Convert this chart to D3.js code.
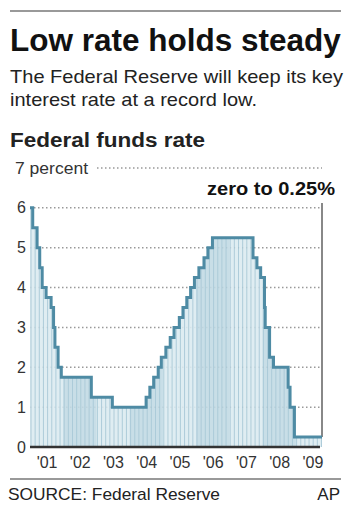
<!DOCTYPE html>
<html>
<head>
<meta charset="utf-8">
<script src="https://cdn.jsdelivr.net/npm/d3@7"></script>
<style>
  body { margin: 0; background: #fff; }
  svg { display: block; }
  text { font-family: "Liberation Sans", Arial, Helvetica, sans-serif; fill: #222; }
</style>
</head>
<body>
<div id="chart"></div>
<script>
// fed funds target rate, each value starts on its date
const rateDates = ["2001-01-01","2001-01-31","2001-03-20","2001-04-18","2001-05-15","2001-06-27","2001-08-21","2001-09-17","2001-10-02","2001-11-06","2001-12-11","2002-11-06","2003-06-25","2004-06-30","2004-08-10","2004-09-21","2004-11-10","2004-12-14","2005-02-02","2005-03-22","2005-05-03","2005-06-30","2005-08-09","2005-09-20","2005-11-01","2005-12-13","2006-01-31","2006-03-28","2006-05-10","2006-06-29","2007-09-18","2007-10-31","2007-12-11","2008-01-22","2008-01-30","2008-03-18","2008-04-30","2008-10-08","2008-10-29","2008-12-16","2009-10-15"];
const rateValues = [6.0,5.5,5.0,4.5,4.0,3.75,3.5,3.0,2.5,2.0,1.75,1.25,1.0,1.25,1.5,1.75,2.0,2.25,2.5,2.75,3.0,3.25,3.5,3.75,4.0,4.25,4.5,4.75,5.0,5.25,4.75,4.5,4.25,3.5,3.0,2.25,2.0,1.5,1.0,0.25,0.25];
const years = [2001,2002,2003,2004,2005,2006,2007,2008,2009];
const yearLabels = ["'01","'02","'03","'04","'05","'06","'07","'08","'09"];
const yTicks = [0,1,2,3,4,5,6,7];

const parse = d3.timeParse("%Y-%m-%d");
const data = rateDates.map((d, i) => ({date: parse(d), rate: rateValues[i]}));

const W = 353, H = 512;
const svg = d3.select("#chart").append("svg").attr("width", W).attr("height", H);

const x = d3.scaleTime()
  .domain([new Date(2001, 0, 1), data[data.length - 1].date])
  .range([30, 322]);
const y = d3.scaleLinear().domain([0, 7]).range([447, 168]);

// header
svg.append("line").attr("x1", 10).attr("x2", 341).attr("y1", 11).attr("y2", 11)
  .attr("stroke", "#999").attr("stroke-width", 2);
svg.append("text").attr("x", 10).attr("y", 51)
  .attr("font-size", 31.5).attr("font-weight", "bold").style("fill", "#111")
  .text("Low rate holds steady");
svg.append("text").attr("x", 10).attr("y", 83).attr("font-size", 19)
  .attr("textLength", 333).attr("lengthAdjust", "spacingAndGlyphs")
  .text("The Federal Reserve will keep its key");
svg.append("text").attr("x", 10).attr("y", 106).attr("font-size", 19)
  .attr("textLength", 247).attr("lengthAdjust", "spacingAndGlyphs")
  .text("interest rate at a record low.");
svg.append("text").attr("x", 10).attr("y", 147).attr("font-size", 20).attr("font-weight", "bold")
  .attr("textLength", 195).attr("lengthAdjust", "spacingAndGlyphs")
  .text("Federal funds rate");

// gridlines
svg.append("g").selectAll("line")
  .data(yTicks.filter(d => d > 0))
  .join("line")
  .attr("x1", d => d == 7 ? 97 : 30).attr("x2", 322)
  .attr("y1", d => y(d)).attr("y2", d => y(d))
  .attr("stroke", "#999").attr("stroke-width", 1.5)
  .attr("stroke-dasharray", "1.5,2.5");

// shaded area under the line
const area = d3.area().curve(d3.curveStepAfter)
  .x(d => x(d.date)).y0(y(0)).y1(d => y(d.rate));
svg.append("clipPath").attr("id", "under")
  .append("path").attr("d", area(data));

const fillG = svg.append("g").attr("clip-path", "url(#under)").attr("opacity", 0.9);
fillG.append("rect").attr("x", 30).attr("y", 168).attr("width", 292).attr("height", 279)
  .attr("fill", "#dcebf1");
fillG.selectAll(".band")
  .data(years.filter(d => d % 2 == 0))
  .join("rect")
  .attr("x", d => x(new Date(d, 0, 1)))
  .attr("width", d => x(new Date(d + 1, 0, 1)) - x(new Date(d, 0, 1)))
  .attr("y", 168).attr("height", 279)
  .attr("fill", "#c3dbe5");
fillG.selectAll(".stripe")
  .data(d3.range(31, 322, 4.15))
  .join("line")
  .attr("x1", d => d).attr("x2", d => d).attr("y1", 168).attr("y2", 447)
  .attr("stroke", "#9fc3d2").attr("stroke-width", 0.9);

// marker for the current level
svg.append("line").attr("x1", 322).attr("x2", 322).attr("y1", 203).attr("y2", y(0.25))
  .attr("stroke", "#888").attr("stroke-width", 2);
svg.append("text").attr("x", 207).attr("y", 195).attr("font-size", 19).attr("font-weight", "bold")
  .style("fill", "#111")
  .attr("textLength", 128).attr("lengthAdjust", "spacingAndGlyphs")
  .text("zero to 0.25%");

// step line
const line = d3.line().curve(d3.curveStepAfter)
  .x(d => x(d.date)).y(d => y(d.rate));
svg.append("path").attr("d", line(data))
  .attr("fill", "none").attr("stroke", "#4e8ba4").attr("stroke-width", 3)
  .attr("stroke-linejoin", "miter");

// baseline
svg.append("line").attr("x1", 30).attr("x2", 320).attr("y1", 447).attr("y2", 447)
  .attr("stroke", "#333").attr("stroke-width", 2.5);

// y axis
const yAxis = svg.append("g").attr("transform", "translate(26,0)")
  .call(d3.axisLeft(y).tickValues(yTicks).tickFormat(d3.format("d")).tickSize(0).tickPadding(0));
yAxis.select(".domain").remove();
yAxis.selectAll("text").attr("font-size", 16).style("fill", "#333")
  .attr("font-family", null);
yAxis.selectAll(".tick").filter(d => d == 7).select("text")
  .attr("text-anchor", "start").attr("x", -11)
  .attr("textLength", 73).attr("lengthAdjust", "spacingAndGlyphs")
  .text("7 percent");

// x axis, labels centred on each year
const xAxis = svg.append("g").attr("transform", "translate(0,447)")
  .call(d3.axisBottom(x)
    .tickValues(years.map(d => new Date(d, 6, 2)))
    .tickFormat((d, i) => yearLabels[i])
    .tickSize(0).tickPadding(10));
xAxis.select(".domain").remove();
xAxis.selectAll("text").attr("font-size", 16).style("fill", "#333").attr("font-family", null);

// footer
svg.append("line").attr("x1", 10).attr("x2", 341).attr("y1", 479).attr("y2", 479)
  .attr("stroke", "#999").attr("stroke-width", 2);
svg.append("text").attr("x", 8).attr("y", 500).attr("font-size", 17)
  .attr("textLength", 212).attr("lengthAdjust", "spacingAndGlyphs")
  .text("SOURCE: Federal Reserve");
svg.append("text").attr("x", 340).attr("y", 500).attr("font-size", 17)
  .attr("text-anchor", "end").text("AP");
</script>
</body>
</html>
